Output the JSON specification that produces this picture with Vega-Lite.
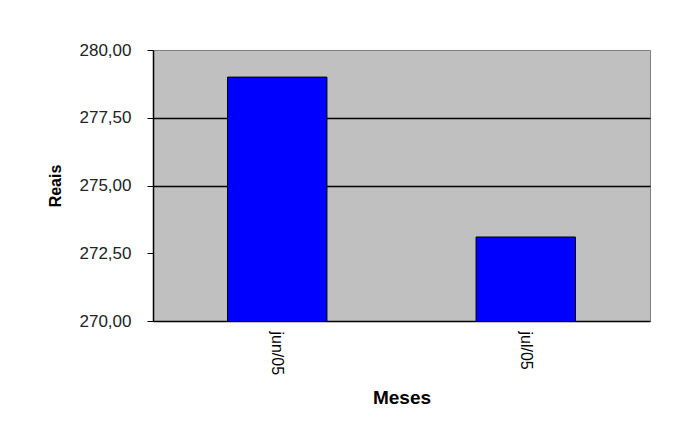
{
  "$schema": "https://vega.github.io/schema/vega-lite/v6.json",
  "width": 497,
  "height": 271,
  "autosize": {"type": "none"},
  "padding": {"left": 153, "top": 50, "right": 37, "bottom": 118},
  "background": "white",
  "config": {
    "view": {"fill": "#c0c0c0", "stroke": "#808080", "strokeWidth": 1},
    "font": "Liberation Sans"
  },
  "data": {"values": [
    {"mes": "jun/05", "valor": 279.0},
    {"mes": "jul/05", "valor": 273.1}
  ]},
  "mark": {"type": "bar", "color": "#0000ff", "stroke": "black", "strokeWidth": 1, "clip": true},
  "encoding": {
    "x": {
      "field": "mes", "type": "nominal", "sort": null,
      "scale": {"paddingInner": 0.6, "paddingOuter": 0.3},
      "axis": {
        "title": "Meses", "titleFont": "Liberation Sans", "titleFontSize": 19, "titleFontWeight": "bold",
        "titleColor": "black", "titlePadding": 14,
        "labelAngle": 90, "labelFontSize": 16, "labelColor": "black", "labelPadding": 10,
        "labelAlign": "left", "labelBaseline": "middle",
        "domainColor": "black", "domainWidth": 1.5, "ticks": false
      }
    },
    "y": {
      "field": "valor", "type": "quantitative",
      "scale": {"domain": [270, 280], "zero": false, "nice": false},
      "axis": {
        "title": "Reais", "titleFont": "Liberation Sans", "titleFontSize": 16, "titleFontWeight": "bold",
        "titleColor": "black", "titlePadding": 16,
        "values": [270, 272.5, 275, 277.5, 280],
        "labelExpr": "replace(format(datum.value, '.2f'), '.', ',')",
        "labelFontSize": 17, "labelColor": "#222222", "labelPadding": 16,
        "tickSize": 6, "tickColor": "black",
        "domainColor": "black", "domainWidth": 1.5,
        "grid": true, "gridWidth": 1.5,
        "gridColor": {"condition": {"test": "datum.value == 275 || datum.value == 277.5", "value": "black"}, "value": "transparent"}
      }
    }
  }
}
